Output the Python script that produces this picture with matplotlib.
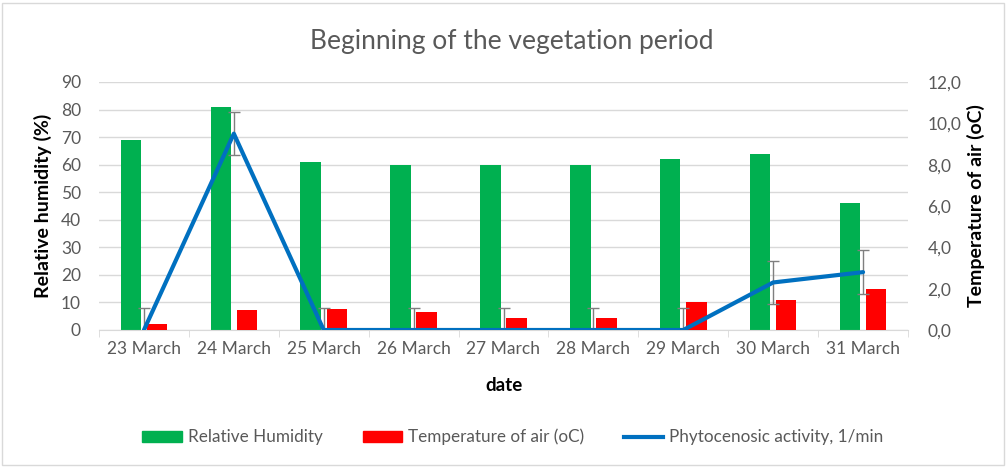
import numpy as np
import matplotlib.pyplot as plt
from matplotlib.patches import Rectangle, Patch
from matplotlib.lines import Line2D
from matplotlib.ticker import FuncFormatter

plt.rcParams['font.family'] = ['Lato', 'DejaVu Sans']

dates = ['23 March', '24 March', '25 March', '26 March', '27 March',
         '28 March', '29 March', '30 March', '31 March']
humidity = [69, 81, 61, 60, 60, 60, 62, 64, 46]
temperature = [0.3, 0.95, 1.0, 0.85, 0.6, 0.6, 1.35, 1.45, 2.0]
activity = [0, 9.5, 0, 0, 0, 0, 0, 2.3, 2.8]
activity_err = [1.05] * 9

green = '#00b050'
red = '#ff0000'
blue = '#0070c0'
grey_txt = '#595959'

fig = plt.figure(figsize=(10.07, 4.67), dpi=100)
ax = fig.add_axes([99 / 1007, 1 - 330 / 467, 809 / 1007, 248 / 467])
ax2 = ax.twinx()

x = np.arange(len(dates))
w = 0.227
ax.bar(x - 0.145, humidity, width=w, color=green, zorder=2)
ax2.bar(x + 0.145, temperature, width=w, color=red, zorder=2)
ax2.errorbar(x, activity, yerr=activity_err, fmt='none', ecolor='#7f7f7f',
             elinewidth=1, capsize=4, capthick=1, zorder=3)
ax2.plot(x, activity, color=blue, lw=3, zorder=4, solid_capstyle='round')

ax.set_xlim(-0.5, len(dates) - 0.5)
ax.set_ylim(0, 90)
ax2.set_ylim(0, 12)
ax.set_yticks(range(0, 91, 10))
ax2.set_yticks(range(0, 13, 2))
ax2.yaxis.set_major_formatter(FuncFormatter(lambda v, p: f'{v:.1f}'.replace('.', ',')))

ax.yaxis.grid(True, color='#d9d9d9', lw=1)
ax.set_axisbelow(True)
for a in (ax, ax2):
    for s in ('top', 'left', 'right'):
        a.spines[s].set_visible(False)
    a.spines['bottom'].set_color('#d9d9d9')
    a.tick_params(axis='y', length=0, labelsize=12.5, labelcolor=grey_txt)
ax2.spines['bottom'].set_visible(False)
ax.tick_params(axis='y', pad=13)
ax2.tick_params(axis='y', pad=14)

ax.set_xticks(x)
ax.set_xticklabels(dates)
ax.set_xticks(np.arange(-0.5, len(dates), 1), minor=True)
ax.tick_params(axis='x', which='major', length=0, labelsize=12.5, labelcolor=grey_txt, pad=8)
ax.tick_params(axis='x', which='minor', length=5, color='#d9d9d9')

ax.set_ylabel('Relative humidity (%)', fontsize=14, fontweight='bold', labelpad=6)
ax2.set_ylabel('Temperature of air (oC)', fontsize=14, fontweight='bold', labelpad=4)
ax.set_xlabel('date', fontsize=13.5, fontweight='bold', labelpad=14)

fig.text(0.508, 1 - 42 / 467, 'Beginning of the vegetation period', ha='center', va='center',
         fontsize=19, color=grey_txt)

handles = [Patch(color=green, label='Relative Humidity'),
           Patch(color=red, label='Temperature of air (oC)'),
           Line2D([], [], color=blue, lw=3, label='Phytocenosic activity, 1/min')]
fig.legend(handles=handles, loc='center', bbox_to_anchor=(513 / 1007, 1 - 437 / 467), ncol=3,
           frameon=False, fontsize=12.3, labelcolor=grey_txt, handlelength=2.3,
           handleheight=0.6, handletextpad=0.35, columnspacing=2.35)

fig.patches.append(Rectangle((2 / 1007, 2 / 467), 1002 / 1007, 462 / 467, transform=fig.transFigure,
                             fill=False, edgecolor='#d9d9d9', lw=1))

fig.savefig('out.png', dpi=100)
